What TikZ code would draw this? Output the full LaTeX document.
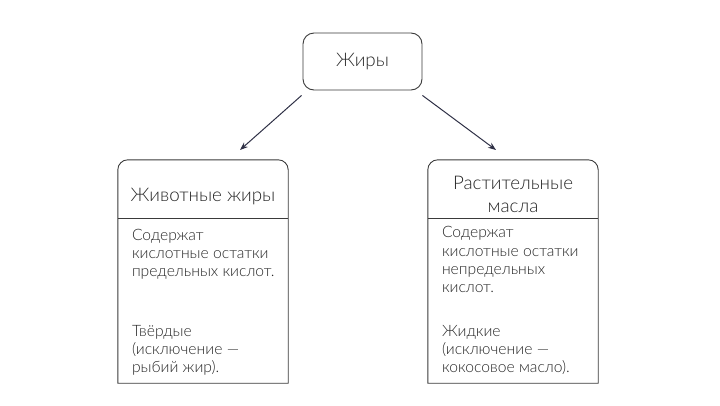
\documentclass[tikz,border=0pt]{standalone}
\usepackage{fontspec}
\setmainfont{Lato}[UprightFont=* Light]
\usetikzlibrary{arrows.meta}

\definecolor{linegray}{HTML}{3A3A3A}
\definecolor{arrowblue}{HTML}{2E3045}

\tikzset{
  fatbox/.style={draw=linegray, line width=0.9pt, rounded corners=11pt,
    minimum width=119pt, minimum height=57pt, inner sep=0pt,
    font=\fontsize{18.8}{23}\selectfont},
  card/.style={minimum width=170pt, minimum height=223pt, inner sep=0pt},
  cardtitle/.style={align=center, anchor=base, inner sep=0pt,
    font=\fontsize{18.8}{23}\selectfont},
  bodytext/.style={align=left, anchor=base west, inner sep=0pt,
    font=\fontsize{15.7}{18.3}\selectfont},
  boxline/.style={draw=linegray, line width=0.9pt},
  arr/.style={-{Stealth[length=8pt,width=6pt]}, draw=arrowblue, line width=1pt},
}

\begin{document}
\begin{tikzpicture}[x=1pt,y=-1pt, text=black!85]
   \useasboundingbox (0,0) rectangle (720,405);

   \node[fatbox] (fats) at (362.5,61.5) {Жиры};

   % animal fats
   \node[card] (animal) at (203,271.5) {};
   \draw[boxline] (animal.south west) [rounded corners=10pt] -- (animal.north west)
      -- (animal.north east) [sharp corners] -- (animal.south east) -- cycle;
   \draw[boxline] ([yshift=-59pt]animal.north west) -- ([yshift=-59pt]animal.north east);
   \node[cardtitle] (animaltitle) at ([yshift=-42pt]animal.north) {Животные жиры};
   \node[bodytext] (animalacid) at ([xshift=14pt,yshift=-117pt]animal.north west)
      {Содержат\\кислотные остатки\\предельных кислот.};
   \node[bodytext] (animalstate) at ([xshift=14pt,yshift=-213pt]animal.north west)
      {Твёрдые\\(исключение —\\рыбий жир).};

   % vegetable oils
   \node[card] (plant) at (513,271.5) {};
   \draw[boxline] (plant.south west) [rounded corners=10pt] -- (plant.north west)
      -- (plant.north east) [sharp corners] -- (plant.south east) -- cycle;
   \draw[boxline] ([yshift=-59pt]plant.north west) -- ([yshift=-59pt]plant.north east);
   \node[cardtitle] (planttitle) at ([yshift=-53pt]plant.north) {Растительные\\масла};
   \node[bodytext] (plantacid) at ([xshift=14pt,yshift=-133pt]plant.north west)
      {Содержат\\кислотные остатки\\непредельных\\кислот.};
   \node[bodytext] (plantstate) at ([xshift=14pt,yshift=-213pt]plant.north west)
      {Жидкие\\(исключение —\\кокосовое масло).};

   \coordinate (animaltip) at (240,150);
   \coordinate (planttip) at (496,150);
   \draw[arr] ([shift={(-1,5)}]fats.south west) -- (animaltip);
   \draw[arr] ([shift={(0,5)}]fats.south east) -- (planttip);

\end{tikzpicture}
\end{document}
